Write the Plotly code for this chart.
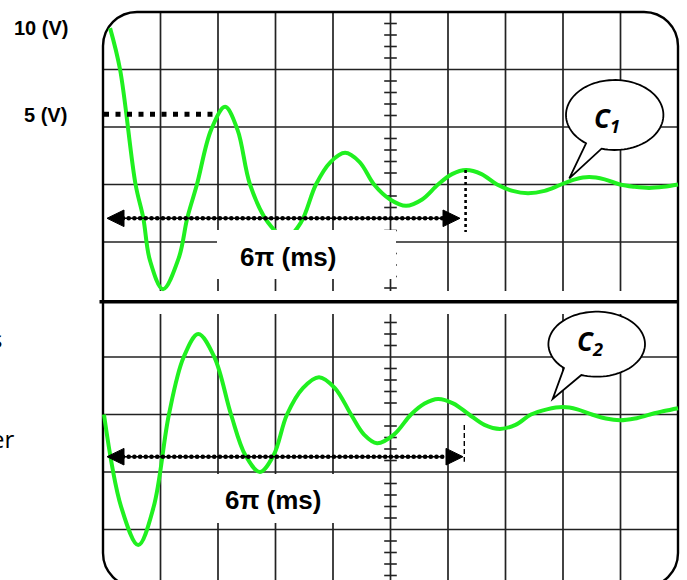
import numpy as np
import plotly.graph_objects as go

# ---------------- data ----------------
# time axis in ms (one screen division = 3 ms), signal position in screen divisions
# (0 = bottom edge of the screen, 10 = top edge)
c1_t = [0.37, 0.89, 1.70, 2.10, 2.45, 3.13, 3.95, 4.40, 4.90, 5.64, 6.37, 7.02, 7.67,
        8.61, 9.55, 10.33, 11.11, 11.87, 12.63, 13.39, 14.14, 14.98, 15.81, 16.65,
        17.48, 18.21, 18.94, 19.75, 20.56, 21.37, 22.17, 23.04, 23.90, 24.63, 25.36,
        26.17, 26.97, 27.73, 28.49, 29.25, 30.0]
c1_v = [9.72, 9.00, 7.00, 6.42, 5.68, 5.18, 5.72, 6.42, 7.00, 7.95, 8.35, 7.95, 7.00,
        6.34, 6.07, 6.34, 7.00, 7.39, 7.55, 7.39, 7.00, 6.74, 6.63, 6.74,
        7.00, 7.18, 7.25, 7.18, 7.00, 6.89, 6.85, 6.89, 7.00, 7.09, 7.13,
        7.09, 7.00, 6.96, 6.94, 6.96, 7.00]

c2_t = [0.05, 0.95, 1.84, 2.64, 3.44, 4.20, 4.97, 5.82, 6.68, 7.43, 8.19, 8.90, 9.60,
        10.43, 11.27, 12.10, 12.94, 13.62, 14.30, 15.18, 16.07, 16.78, 17.48, 18.29,
        19.10, 19.90, 20.71, 21.52, 22.33, 23.16, 24.00, 24.75, 25.51, 26.24, 26.97,
        27.75, 28.54, 29.27, 30.0]
c2_v = [3.00, 1.39, 0.73, 1.39, 3.00, 3.99, 4.40, 3.99, 3.00, 2.29, 2.00, 2.29, 3.00,
        3.46, 3.65, 3.46, 3.00, 2.65, 2.50, 2.65, 3.00, 3.19, 3.27, 3.19,
        3.00, 2.82, 2.75, 2.82, 3.00, 3.09, 3.13, 3.09, 3.00, 2.93, 2.90,
        2.93, 3.00, 3.06, 3.11]

grid_t = [3, 6, 9, 12, 15, 18, 21, 24, 27]      # vertical grid lines (ms)
grid_top = [6, 7, 8, 9]                          # horizontal grid lines, upper trace
grid_bottom = [1, 2, 3, 4]                       # horizontal grid lines, lower trace
period_label = "6π (ms)"
v_labels = ["10 (V)", "5 (V)"]

# ---------------- geometry helpers (pixel -> axis units) ----------------
W, H = 687, 580
X0, X1 = 103, 678          # screen left / right edge in pixels
YB = 587                   # screen bottom edge in pixels (below window)
PX_MS = (X1 - X0) / 30.0
PX_DIV = 57.5
ML, MR, MT, MB = 95, 1, 4, 0


def tx(px):
    return (px - X0) / PX_MS


def ty(py):
    return (YB - py) / PX_DIV


def paper_x(px):
    return (px - ML) / (W - ML - MR)


def paper_y(py):
    return (H - MB - py) / (H - MT - MB)


GRID_COL = "#222222"
GREEN = "rgb(32,240,32)"

fig = go.Figure()
shapes = []

# grid (vertical lines broken around the separator)
for t in grid_t:
    shapes.append(dict(type="line", x0=t, x1=t, y0=ty(291), y1=10, layer="below",
                       line=dict(color=GRID_COL, width=1.7)))
    shapes.append(dict(type="line", x0=t, x1=t, y0=0, y1=ty(314), layer="below",
                       line=dict(color=GRID_COL, width=1.7)))
for v in grid_top + grid_bottom:
    shapes.append(dict(type="line", x0=0, x1=30, y0=v, y1=v, layer="below",
                       line=dict(color=GRID_COL, width=1.7)))

# rounded screen border
rx, ry, k = 34 / PX_MS, 34 / PX_DIV, 0.5523
border = (f"M {rx},10 L {30-rx},10 C {30-rx+k*rx},10 30,{10-ry+k*ry} 30,{10-ry} "
          f"L 30,{ry} C 30,{ry-k*ry} {30-rx+k*rx},0 {30-rx},0 "
          f"L {rx},0 C {rx-k*rx},0 0,{ry-k*ry} 0,{ry} "
          f"L 0,{10-ry} C 0,{10-ry+k*ry} {rx-k*rx},10 {rx},10 Z")
shapes.append(dict(type="path", path=border, layer="below",
                   line=dict(color="black", width=2.4)))

# thick separator between the two traces
shapes.append(dict(type="line", x0=tx(99.5), x1=tx(678.5), y0=ty(301.7), y1=ty(301.7),
                   layer="below", line=dict(color="black", width=3.6)))

# centre axis minor ticks
ticks = [round(0.2 * i, 2) for i in range(1, 50) if i % 5 != 0]
ticks = [v for v in ticks if v >= ty(291) or v <= ty(314)]
fig.add_trace(go.Scatter(x=[15] * len(ticks), y=ticks, mode="markers",
                         marker=dict(symbol="line-ew", size=9,
                                     line=dict(color=GRID_COL, width=1.6)),
                         hoverinfo="skip", showlegend=False))

# curves
for tt, vv in ((c1_t, c1_v), (c2_t, c2_v)):
    fig.add_trace(go.Scatter(x=tt, y=vv, mode="lines",
                             line=dict(color=GREEN, width=4, shape="spline", smoothing=1.0),
                             hoverinfo="skip", showlegend=False))

# 5 V dashed marker
fig.add_trace(go.Scatter(x=[tx(104), tx(219)], y=[ty(114.3)] * 2, mode="lines",
                         line=dict(color="black", width=5, dash="5px,6.5px"),
                         hoverinfo="skip", showlegend=False))

# dotted double arrows
for ypx, xl, xr in ((218.3, 107, 460), (456.7, 107, 463)):
    xs = np.arange(tx(xl + 16), tx(xr - 16) + 1e-6, 5.7 / PX_MS)
    fig.add_trace(go.Scatter(x=xs, y=[ty(ypx)] * len(xs), mode="lines+markers",
                             line=dict(color="black", width=1.6),
                             marker=dict(color="black", size=4.6),
                             hoverinfo="skip", showlegend=False))
    hh = 8.3 / PX_DIV
    yc = ty(ypx)
    shapes.append(dict(type="path", layer="above", fillcolor="black",
                       line=dict(color="black", width=1),
                       path=f"M {tx(xl)},{yc} L {tx(xl+17)},{yc+hh} L {tx(xl+17)},{yc-hh} Z"))
    shapes.append(dict(type="path", layer="above", fillcolor="black",
                       line=dict(color="black", width=1),
                       path=f"M {tx(xr)},{yc} L {tx(xr-17)},{yc+hh} L {tx(xr-17)},{yc-hh} Z"))

# vertical markers at the end of 6π
fig.add_trace(go.Scatter(x=[tx(465.6)] * 2, y=[ty(170), ty(232)], mode="lines",
                         line=dict(color="black", width=2.6, dash="dot"),
                         hoverinfo="skip", showlegend=False))
fig.add_trace(go.Scatter(x=[tx(464.3)] * 2, y=[ty(425), ty(461.7)], mode="lines",
                         line=dict(color="black", width=1.4, dash="5px,3px"),
                         hoverinfo="skip", showlegend=False))

# white label boxes
shapes.append(dict(type="rect", layer="above", x0=tx(217), x1=tx(396), y0=ty(279), y1=ty(230),
                   fillcolor="white", line=dict(width=0)))
shapes.append(dict(type="rect", layer="above", x0=tx(178), x1=tx(384), y0=ty(523), y1=ty(474),
                   fillcolor="white", line=dict(width=0)))


# speech bubbles
def bubble(cx, cy, a, b, p1, p2, tip):
    th1 = np.arctan2((p1[1] - cy) / b, (p1[0] - cx) / a)
    th2 = np.arctan2((p2[1] - cy) / b, (p2[0] - cx) / a)
    if th2 < th1:
        th2 += 2 * np.pi
    ths = np.linspace(th1, th2, 90)
    pts = [(cx + a * np.cos(t), cy + b * np.sin(t)) for t in ths]
    pts.append(tip)
    d = "M " + " L ".join(f"{tx(px):.4f},{ty(py):.4f}" for px, py in pts) + " Z"
    return dict(type="path", path=d, layer="above", fillcolor="white",
                line=dict(color="black", width=1.8))


shapes.append(bubble(614.7, 115, 48.7, 35, (583.3, 146), (600, 152.7), (569.3, 178.3)))
shapes.append(bubble(596.7, 344.2, 48.3, 32.5, (565, 367.3), (581.7, 374.3), (552.7, 399)))

annotations = []
bold = dict(family="Liberation Sans, Arial", size=20, color="black", weight="bold")
annotations.append(dict(text=v_labels[0], x=paper_x(41), y=paper_y(28), xref="paper", yref="paper",
                        showarrow=False, xanchor="center", yanchor="middle", font=bold))
annotations.append(dict(text=v_labels[1], x=paper_x(45.5), y=paper_y(115), xref="paper", yref="paper",
                        showarrow=False, xanchor="center", yanchor="middle", font=bold))
big = dict(family="Liberation Sans, Arial", size=26, color="black", weight="bold")
for cxp, cyp in ((288, 257), (273, 500)):
    annotations.append(dict(text=period_label, x=paper_x(cxp), y=paper_y(cyp), xref="paper",
                            yref="paper", showarrow=False, xanchor="center", yanchor="middle",
                            font=big))
cfont = dict(family="Open Sans", size=26, color="black", weight="bold", style="italic")
annotations.append(dict(text="C<sub>1</sub>", x=paper_x(607), y=paper_y(119), xref="paper",
                        yref="paper", showarrow=False, xanchor="center", yanchor="middle", font=cfont))
annotations.append(dict(text="C<sub>2</sub>", x=paper_x(590), y=paper_y(342), xref="paper",
                        yref="paper", showarrow=False, xanchor="center", yanchor="middle", font=cfont))
# text of the surrounding page, cut off at the left edge
side = dict(family="Open Sans", size=24, color="black")
annotations.append(dict(text="s", x=paper_x(3.5), y=paper_y(338), xref="paper", yref="paper",
                        showarrow=False, xanchor="right", yanchor="middle", font=side))
annotations.append(dict(text="er", x=paper_x(15.5), y=paper_y(438), xref="paper", yref="paper",
                        showarrow=False, xanchor="right", yanchor="middle", font=side))

fig.update_layout(
    width=W, height=H,
    margin=dict(l=ML, r=MR, t=MT, b=MB, pad=0),
    paper_bgcolor="white", plot_bgcolor="white",
    xaxis=dict(range=[tx(ML), tx(W - MR)], visible=False, fixedrange=True),
    yaxis=dict(range=[ty(H - MB), ty(MT)], visible=False, fixedrange=True),
    shapes=shapes, annotations=annotations, showlegend=False,
)

fig.write_html("out.html", config={"displayModeBar": False, "staticPlot": True},
               post_script="document.body.style.margin='0px';document.body.style.overflow='hidden';")
